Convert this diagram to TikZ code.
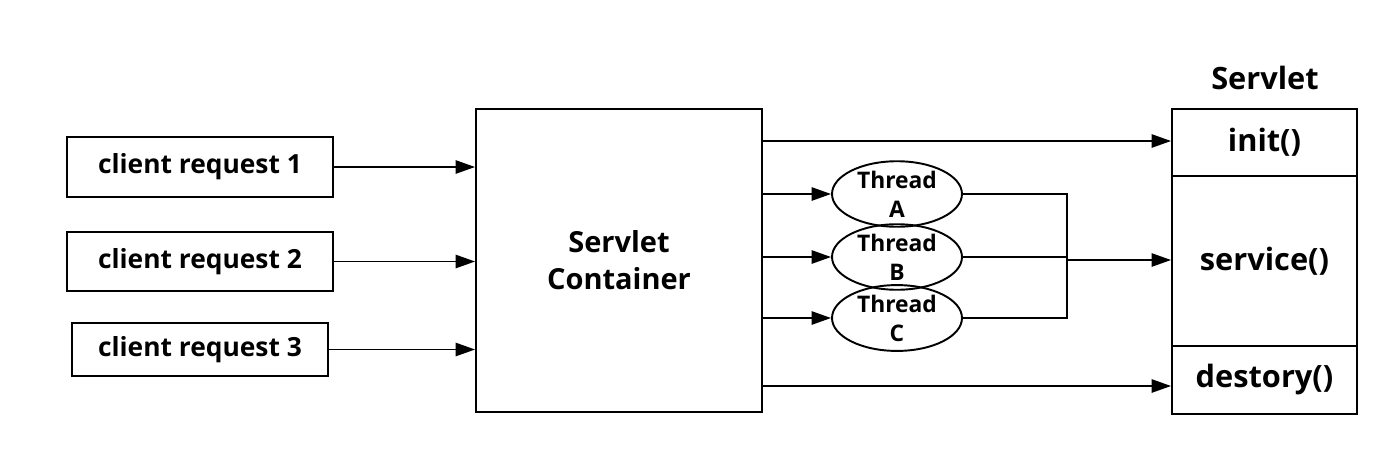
\documentclass[tikz,border=0pt]{standalone}
\usepackage{fontspec}
\setmainfont{Open Sans}
\usetikzlibrary{arrows.meta,shapes.geometric}
\tikzset{
    arr/.style={-{Triangle[length=11pt,width=7.5pt]}, line width=1.1pt},
    reqbox/.style={draw, line width=1.1pt, inner sep=0pt, font=\fontsize{15}{18}\selectfont\bfseries},
    thread/.style={draw, ellipse, line width=1.1pt, inner sep=0pt, minimum width=2.6cm, minimum height=1.04cm,
        align=center, font=\fontsize{13}{16.5}\selectfont\bfseries}
}
\begin{document}
\begin{tikzpicture}[x=0.02cm, y=-0.02cm]
                \useasboundingbox (0,0) rectangle (1400,474);
                % requests
                \node[reqbox, minimum width=5.32cm, minimum height=1.2cm] (req1) at (200,167) {client request 1};
                \node[reqbox, minimum width=5.32cm, minimum height=1.18cm] (req2) at (200,261.5) {client request 2};
                \node[reqbox, minimum width=5.12cm, minimum height=1.06cm] (req3) at (200,349.5) {client request 3};
                % container
                \node[reqbox, minimum width=5.72cm, minimum height=6.06cm, align=center,
                    font=\fontsize{16.5}{21}\selectfont\bfseries] (cont) at (619,260.5) {Servlet\\Container};
                \draw[arr] (req1.east) -- (req1.east -| cont.west);
                \draw[arr] (req2.east) -- (req2.east -| cont.west);
                \draw[arr] (req3.east) -- (req3.east -| cont.west);
                % threads
                \node[thread] (thA) at (897,194) {Thread\\A};
                \node[thread] (thB) at (897,257) {Thread\\B};
                \node[thread] (thC) at (897,318) {Thread\\C};
                \draw[arr] (thA.west -| cont.east) -- (thA.west);
                \draw[arr] (thB.west -| cont.east) -- (thB.west);
                \draw[arr] (thC.west -| cont.east) -- (thC.west);
                % servlet
                \node[reqbox, minimum width=3.7cm, minimum height=1.34cm,
                    font=\fontsize{17.5}{20}\selectfont\bfseries] (init) at (1264.5,142.5) {init()};
                \node[reqbox, minimum width=3.7cm, minimum height=3.4cm,
                    font=\fontsize{17.5}{20}\selectfont\bfseries] (serv) at (1264.5,261) {service()};
                \node[reqbox, minimum width=3.7cm, minimum height=1.36cm,
                    font=\fontsize{17.5}{20}\selectfont\bfseries] (dest) at (1264.5,380) {destory()};
                \node[font=\fontsize{17.5}{20}\selectfont\bfseries] (title) at (1265,78) {Servlet};
                \coordinate (merge) at (1067,260);
                \draw[line width=1.1pt] (thA.east) -| (merge);
                \draw[line width=1.1pt] (thC.east) -| (merge);
                \draw[line width=1.1pt] (thB.east) -- (thB.east -| merge);
                \draw[arr] (merge) -- (merge -| serv.west);
                \draw[arr] (cont.east |- 0,141) -- (init.west |- 0,141);
                \draw[arr] (cont.east |- 0,386) -- (dest.west |- 0,386);
            \end{tikzpicture}
\end{document}
